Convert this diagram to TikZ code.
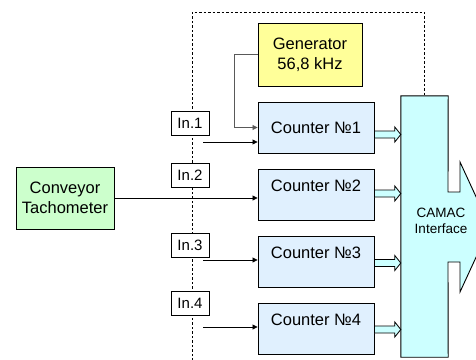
\documentclass[tikz,border=0pt]{standalone}
\usepackage{fontspec}
\setmainfont{Liberation Sans}
\usetikzlibrary{arrows.meta,calc}
\definecolor{genY}{RGB}{255,255,153}
\definecolor{cntB}{RGB}{224,240,254}
\definecolor{convG}{RGB}{204,255,204}
\definecolor{camC}{RGB}{204,255,255}
\newcommand\hollowarr[2]{%
  \coordinate (#1e) at (#1 -| #2.west);
  \draw[hollow] ($(#1)+(0,-3.5)$) -- ($(#1e)+(-6,-3.5)$) -- ($(#1e)+(-6,-7.5)$) -- (#1e)
    -- ($(#1e)+(-6,7.5)$) -- ($(#1e)+(-6,3.5)$) -- ($(#1)+(0,3.5)$) -- cycle;}
\begin{document}
\begin{tikzpicture}[x=1pt,y=-1pt,
  box/.style={draw=black, line width=0.9pt, rectangle, inner sep=0pt, align=center,
    font=\fontsize{16.5}{20}\selectfont},
  genbox/.style={box, fill=genY, minimum width=104pt, minimum height=63pt},
  cntbox/.style={box, fill=cntB, minimum width=116pt, minimum height=51pt, text height=12pt, text depth=0pt},
  cntup/.style={cntbox, text depth=19pt},
  convbox/.style={box, fill=convG, minimum width=98pt, minimum height=62pt},
  inbox/.style={draw=black, line width=0.9pt, fill=white, minimum width=38pt, minimum height=24.5pt,
    inner sep=0pt, font=\fontsize{15}{18}\selectfont},
  sig/.style={line width=0.8pt, -{Triangle[length=5pt,width=5pt]}},
  framel/.style={line width=0.7pt, dash pattern=on 2.5pt off 2pt},
  hollow/.style={draw=black, line width=0.8pt, fill=camC, line join=miter},
  camacshape/.style={draw=black, line width=0.9pt, fill=camC, line join=miter},
]
\useasboundingbox (0,0) rectangle (476,359);
\clip (0,0) rectangle (476,359);

% CAMAC anchor node
\node[minimum width=47pt, minimum height=261pt, inner sep=0pt] (camac) at (424.5,226.5) {};

% dashed frame
\coordinate (fb) at (192,365);
\draw[framel] (fb) -- (192,12) -| (camac.north);

% CAMAC interface with output arrow
\draw[camacshape] (camac.north west) -- (camac.north east) -- (448,192) -- (460,192) -- (460,162)
  -- (490,227) -- (460,292) -- (460,262) -- (448,262) -- (camac.south east) -- (camac.south west) -- cycle;
\node[font=\fontsize{13.5}{15.5}\selectfont, align=center, inner sep=0pt] (camactxt) at (441,221) {CAMAC\\Interface};

% input labels
\node[inbox] (in1) at (190,123.3) {In.1};
\node[inbox] (in2) at (190,175.5) {In.2};
\node[inbox] (in3) at (190,245.3) {In.3};
\node[inbox] (in4) at (190,303.3) {In.4};

% blocks
\node[genbox] (gen) at (310,54.5) {Generator\\56,8 kHz};
\node[cntbox] (c1) at (316,127.5) {Counter №1};
\node[cntup] (c2) at (316,194.5) {Counter №2};
\node[cntup] (c3) at (316,261.5) {Counter №3};
\node[cntup] (c4) at (316,329) {Counter №4};
\node[convbox] (conv) at (65,198) {Conveyor\\Tachometer};

% signals
\draw[sig, draw=black!65] (gen.west) -- ++(-23,0) |- (c1.west);
\coordinate (s1) at (203,142);
\draw[sig] (s1) -- (s1 -| c1.west);
\draw[sig] (conv.east) -- (conv.east -| c2.west);
\coordinate (s3) at (203,260);
\draw[sig] (s3) -- (s3 -| c3.west);
\coordinate (s4) at (203,327);
\draw[sig] (s4) -- (s4 -| c4.west);

% hollow arrows to CAMAC
\coordinate (a1) at ($(c1.east)+(0,7)$);
\coordinate (a2) at ($(c2.east)+(0,-1)$);
\coordinate (a3) at ($(c3.east)+(0,1.5)$);
\coordinate (a4) at ($(c4.east)+(0,0.5)$);
\hollowarr{a1}{camac}
\hollowarr{a2}{camac}
\hollowarr{a3}{camac}
\hollowarr{a4}{camac}
\end{tikzpicture}
\end{document}
